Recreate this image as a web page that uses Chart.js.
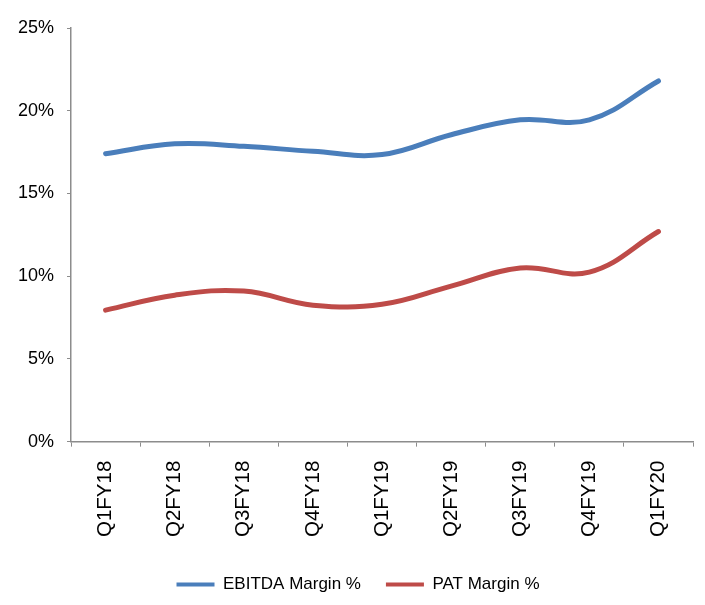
<!DOCTYPE html>
<html>
<head>
<meta charset="utf-8">
<script src="https://cdn.jsdelivr.net/npm/chart.js@4/dist/chart.umd.min.js"></script>
<style>
  html, body { margin: 0; padding: 0; background: #fff; }
  #wrap { width: 705px; height: 605px; position: relative; }
</style>
</head>
<body>
<div id="wrap"><canvas id="c"></canvas></div>
<script>
// Quarterly margins (%)
const quarters = ['Q1FY18', 'Q2FY18', 'Q3FY18', 'Q4FY18', 'Q1FY19', 'Q2FY19', 'Q3FY19', 'Q4FY19', 'Q1FY20'];
const ebitdaMargin = [17.4, 18.0, 17.85, 17.55, 17.35, 18.55, 19.45, 19.45, 21.8];
const patMargin = [7.95, 8.85, 9.1, 8.25, 8.3, 9.4, 10.5, 10.25, 12.7];
const yTicks = [0, 5, 10, 15, 20, 25];

const FONT = "'Liberation Sans', Arial, sans-serif";
const AXIS = '#8c8c8c';

// Nudge the legend row a little to the right of the canvas centre
const legendShift = {
  id: 'legendShift',
  afterLayout(chart) {
    const lg = chart.legend;
    if (lg) { lg.left += 9; lg.right += 9; }
  }
};

new Chart(document.getElementById('c'), {
  type: 'line',
  data: {
    labels: quarters,
    datasets: [
      {
        label: 'EBITDA Margin %',
        data: ebitdaMargin,
        borderColor: '#4a7ebb',
        backgroundColor: '#4a7ebb',
        borderWidth: 5,
        tension: 0.4,
        pointRadius: 0,
        borderCapStyle: 'round'
      },
      {
        label: 'PAT Margin %',
        data: patMargin,
        borderColor: '#be4b48',
        backgroundColor: '#be4b48',
        borderWidth: 5,
        tension: 0.4,
        pointRadius: 0,
        borderCapStyle: 'round'
      }
    ]
  },
  plugins: [legendShift],
  options: {
    responsive: true,
    maintainAspectRatio: false,
    animation: false,
    layout: { padding: { left: 5, right: 12, top: 28, bottom: 2 } },
    plugins: {
      tooltip: { enabled: false },
      legend: {
        position: 'bottom',
        labels: {
          color: '#000',
          font: { family: FONT, size: 17 },
          boxWidth: 38,
          boxHeight: 4,
          padding: 25,
          // flat line swatches without an outline
          generateLabels: (chart) =>
            Chart.defaults.plugins.legend.labels.generateLabels(chart)
              .map(item => ({ ...item, lineWidth: 0 }))
        }
      }
    },
    scales: {
      x: {
        offset: true,
        grid: {
          offset: true,
          drawOnChartArea: false,
          drawTicks: true,
          tickLength: 5,
          color: AXIS
        },
        border: { color: AXIS, width: 1.5 },
        ticks: {
          color: '#000',
          font: { family: FONT, size: 20.5 },
          minRotation: 90,
          maxRotation: 90,
          padding: 14
        }
      },
      y: {
        min: 0,
        max: 25,
        afterBuildTicks: (axis) => { axis.ticks = yTicks.map(v => ({ value: v })); },
        grid: {
          drawOnChartArea: false,
          drawTicks: true,
          tickLength: 4,
          color: AXIS
        },
        border: { color: AXIS, width: 1.5 },
        ticks: {
          color: '#000',
          font: { family: FONT, size: 18 },
          padding: 13,
          callback: (v) => v + '%'
        }
      }
    }
  }
});
</script>
</body>
</html>
